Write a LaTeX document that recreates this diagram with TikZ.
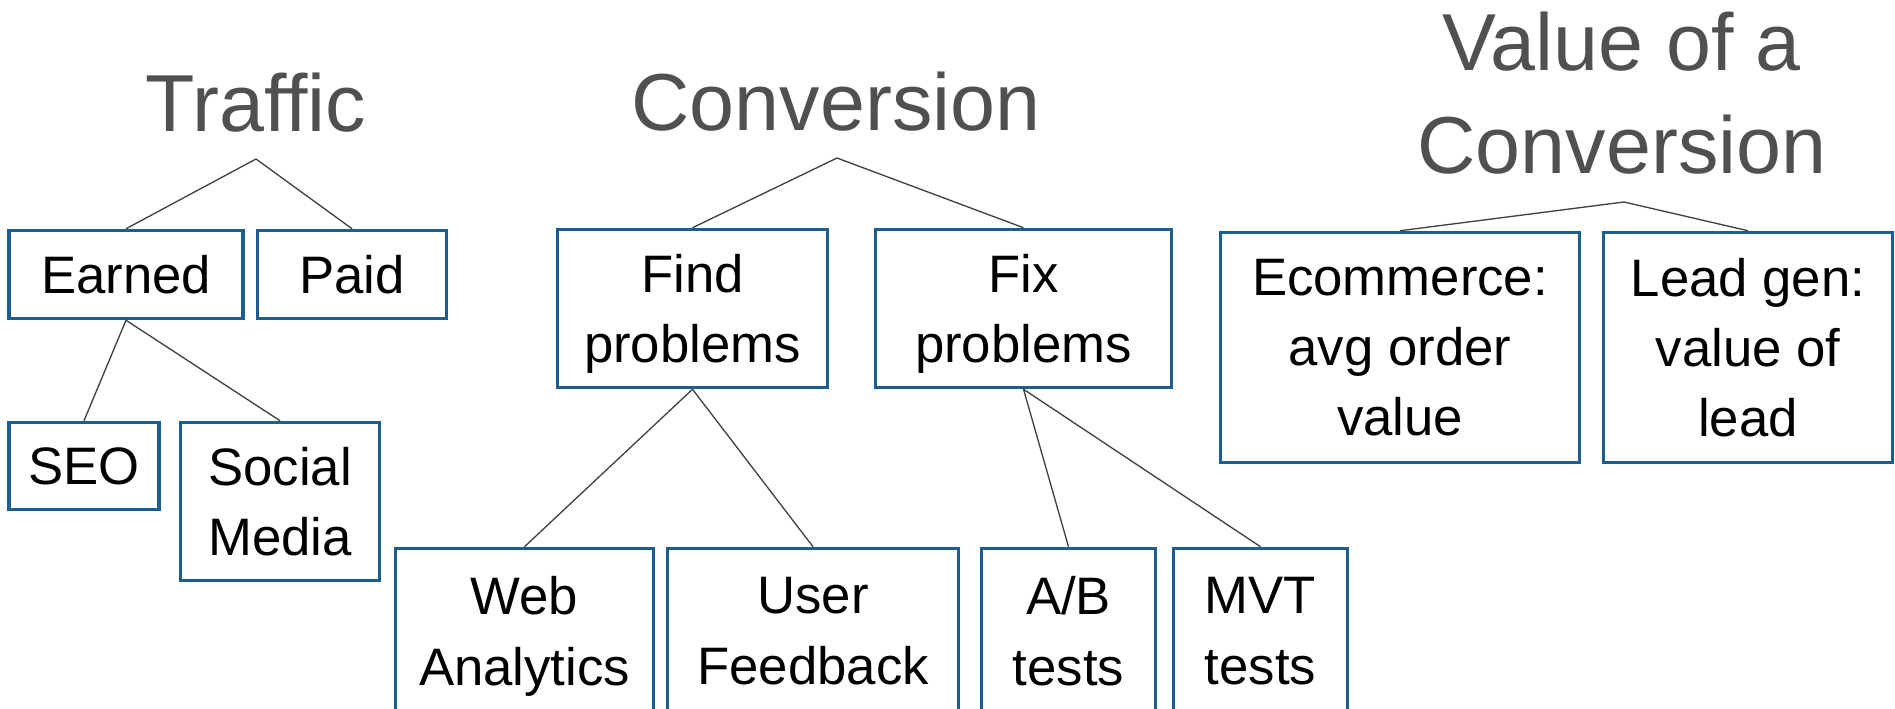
\documentclass[tikz,border=0pt]{standalone}
\usepackage{fontspec}
\setmainfont{Liberation Sans}
\usetikzlibrary{arrows.meta,positioning}
\definecolor{boxblue}{RGB}{30,94,142}
\definecolor{titlegray}{RGB}{80,80,80}
\definecolor{linegray}{RGB}{64,64,64}

\begin{document}
\begin{tikzpicture}[>=Stealth,
  box/.style={draw=boxblue,line width=2pt,fill=white,align=center,inner sep=0pt,text depth=0pt,font=\fontsize{30}{40}\selectfont},
  head/.style={text=titlegray,align=center,inner sep=0pt,font=\fontsize{46}{59}\selectfont},
  link/.style={draw=linegray,line width=0.75pt}]
\useasboundingbox (0,0) rectangle (37.9,14.16);
\clip (0,0) rectangle (37.9,14.16);
% headings
\node[head,anchor=base] (traffic) at (5.12,11.54) {Traffic};
\node[head,anchor=base] (conv) at (16.72,11.56) {Conversion};
\node[head] (value) at (32.44,12.30) {Value of a\\Conversion};
\coordinate (trafficTip) at (5.12,10.98);
\coordinate (convTip) at (16.74,11.0);
\coordinate (valueTip) at (32.48,10.12);
% boxes
\foreach \n/\x/\y/\w/\h/\txt in {earned/2.52/8.67/4.68/1.76/{Earned},
  paid/7.04/8.67/3.78/1.76/{Paid},
  seo/1.68/4.84/3.0/1.74/{SEO},
  social/5.6/4.13/3.98/3.16/{Social\\Media},
  find/13.85/7.99/5.4/3.16/{Find\\problems},
  fix/20.47/7.99/5.92/3.16/{Fix\\problems},
  web/10.49/1.54/5.16/3.3/{Web\\Analytics},
  user/16.26/1.54/5.82/3.3/{User\\Feedback},
  ab/21.37/1.54/3.48/3.3/{A/B\\tests},
  mvt/25.21/1.54/3.48/3.3/{MVT\\tests},
  ecom/28.0/7.21/7.18/4.6/{Ecommerce:\\avg order\\value},
  lead/34.96/7.21/5.78/4.6/{Lead gen:\\value of\\lead}}
{
 \node[box,minimum width=\w cm,minimum height=\h cm] (\n) at (\x,\y) {\txt};
}
% connectors
\foreach \a/\b in {trafficTip/earned,trafficTip/paid,convTip/find,convTip/fix,valueTip/ecom,valueTip/lead}
 \draw[link] (\a) -- (\b.north);
\foreach \a/\b in {earned/seo,earned/social,find/web,find/user,fix/ab,fix/mvt}
 \draw[link] (\a.south) -- (\b.north);
\end{tikzpicture}
\end{document}
